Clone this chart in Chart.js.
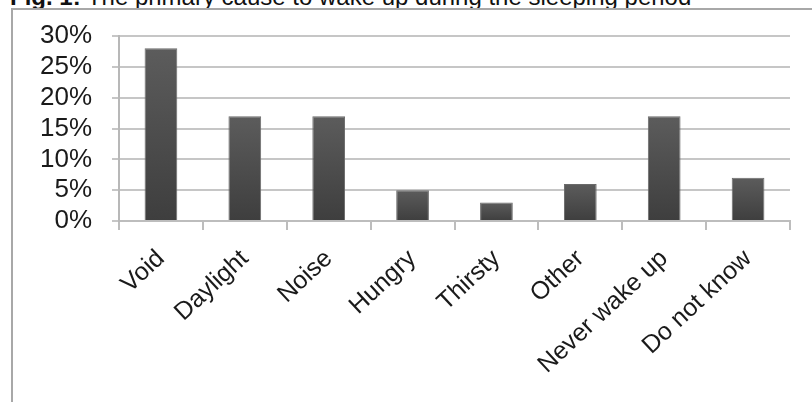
<!DOCTYPE html>
<html>
<head>
<meta charset="utf-8">
<script src="https://cdn.jsdelivr.net/npm/chart.js@4"></script>
<style>
  html, body { margin: 0; padding: 0; background: #fff; overflow: hidden; }
  #wrap { position: relative; width: 812px; height: 402px; overflow: hidden; background: #fff; }
  #title { position: absolute; left: 10px; top: -15px; font-family: "Liberation Sans", Arial, sans-serif; font-size: 24px; line-height: 24px; color: #111; white-space: nowrap; }
  #frame { position: absolute; left: 11px; top: 8px; width: 900px; height: 500px; border-left: 2px solid #a8a8a8; border-top: 2px solid #a8a8a8; box-sizing: border-box; }
  #c { position: absolute; left: 0; top: 0; }
</style>
</head>
<body>
<div id="wrap">
  <div id="title"><b>Fig. 1:</b> The primary cause to wake up during the sleeping period</div>
  <div id="frame"></div>
  <canvas id="c" width="812" height="402"></canvas>
</div>
<script>
const categories = ["Void", "Daylight", "Noise", "Hungry", "Thirsty", "Other", "Never wake up", "Do not know"];
const values = [28, 17, 17, 5, 3, 6, 17, 7];
const yTicks = [0, 5, 10, 15, 20, 25, 30];

function barFill(ctx) {
  const chart = ctx.chart;
  const ys = chart.scales && chart.scales.y;
  if (!ys || ctx.parsed === undefined) return '#4a4a4a';
  const top = ys.getPixelForValue(ctx.parsed.y);
  const base = ys.getPixelForValue(0);
  if (!isFinite(top) || !isFinite(base) || top === base) return '#4a4a4a';
  const g = chart.ctx.createLinearGradient(0, top, 0, base);
  g.addColorStop(0, '#5c5c5c');
  g.addColorStop(1, '#3e3e3e');
  return g;
}

new Chart(document.getElementById('c'), {
  type: 'bar',
  data: {
    labels: categories,
    datasets: [{
      data: values,
      backgroundColor: barFill,
      borderColor: '#6a6a6a',
      borderWidth: 1,
      barPercentage: 0.39,
      categoryPercentage: 1.0
    }]
  },
  options: {
    responsive: false,
    animation: false,
    devicePixelRatio: 1,
    layout: { padding: { left: 0, right: 22, top: 36, bottom: 0 } },
    plugins: { legend: { display: false }, title: { display: false }, tooltip: { enabled: false } },
    scales: {
      x: {
        grid: { display: true, drawOnChartArea: false, offset: true, tickLength: 9, color: '#bdbdbd', lineWidth: 2 },
        border: { color: '#bdbdbd', width: 2 },
        ticks: {
          minRotation: 43, maxRotation: 43, autoSkip: false, padding: 14,
          color: '#1a1a1a', font: { family: '"Liberation Sans", Arial, sans-serif', size: 25 }
        },
        afterFit: (s) => { s.height = 181; }
      },
      y: {
        min: 0, max: 30,
        afterBuildTicks: (s) => { s.ticks = yTicks.map(v => ({ value: v })); },
        afterFit: (s) => { s.width = 119; },
        grid: { color: '#c6c6c6', lineWidth: 2, tickLength: 7 },
        border: { color: '#b8b8b8', width: 2 },
        ticks: {
          autoSkip: false, padding: 20, color: '#1a1a1a',
          font: { family: '"Liberation Sans", Arial, sans-serif', size: 26 },
          callback: (v) => v + '%'
        }
      }
    }
  }
});
</script>
</body>
</html>
